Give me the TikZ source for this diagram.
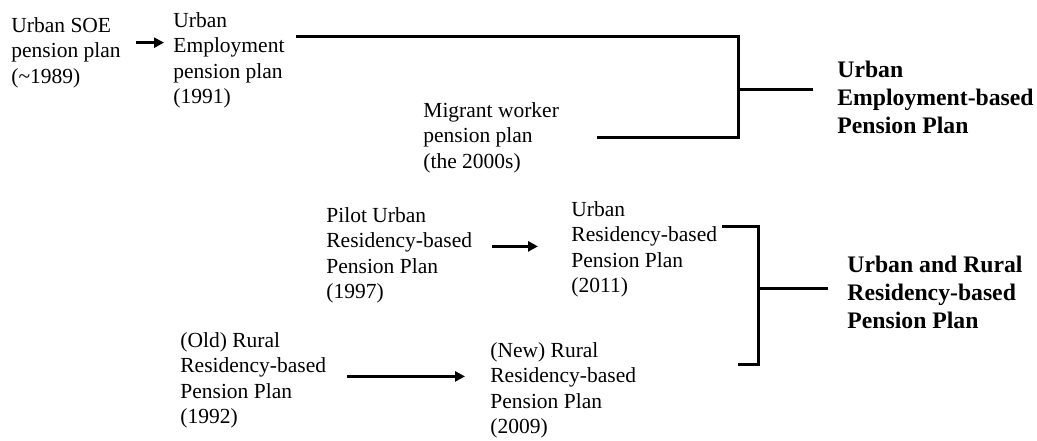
\documentclass[tikz,border=0pt]{standalone}
\usepackage{fontspec}
\setmainfont{Liberation Serif}
\usepackage{tikz}
\usetikzlibrary{arrows.meta}

\begin{document}
\begin{tikzpicture}[x=0.5pt,y=-0.5pt,
  plan/.style={anchor=north west,inner sep=0pt,align=left,font=\fontsize{10.75}{12.75}\selectfont},
  goal/.style={anchor=north west,inner sep=0pt,align=left,font=\fontsize{11.85}{14}\selectfont\bfseries},
  arr/.style={line width=1.5pt,-{Triangle[length=5pt,width=5pt]}},
  brk/.style={line width=1.5pt}]
\useasboundingbox (0,0) rectangle (1037,440);
% urban employment side
\node[plan] (soe) at (11,17) {Urban SOE\\pension plan\\(\textasciitilde1989)};
\node[plan] (emp) at (173,12) {Urban\\Employment\\pension plan\\(1991)};
\node[plan] (mig) at (423,102) {Migrant worker\\pension plan\\(the 2000s)};
\node[goal] (ueb) at (837,61) {Urban\\Employment-based\\Pension Plan};
% residency side
\node[plan] (pilot) at (326,207) {Pilot Urban\\Residency-based\\Pension Plan\\(1997)};
\node[plan] (urr) at (571,201) {Urban\\Residency-based\\Pension Plan\\(2011)};
\node[plan] (old) at (180,332) {(Old) Rural\\Residency-based\\Pension Plan\\(1992)};
\node[plan] (new) at (490,342) {(New) Rural\\Residency-based\\Pension Plan\\(2009)};
\node[goal] (urrb) at (847,256) {Urban and Rural\\Residency-based\\Pension Plan};
\coordinate (ujoin) at (738,89);
\coordinate (rjoin) at (758,288);
\coordinate (rbot) at (738,364);

\draw[arr,shorten <=7.5pt,shorten >=4.5pt] ([yshift=5pt]soe.east) -- ([yshift=5pt]soe.east -| emp.west);
\draw[arr,shorten <=10pt,shorten >=16.5pt] ([yshift=4.5pt]pilot.east) -- ([yshift=4.5pt]pilot.east -| urr.west);
\draw[arr,shorten <=10.5pt,shorten >=12.5pt] ([yshift=2pt]old.east) -- ([yshift=2pt]old.east -| new.west);

\draw[brk] ([shift={(5.5pt,12pt)}]emp.east) -| (ujoin) |- ([xshift=19pt]mig.east);
\draw[brk] (ujoin) -- ([xshift=-12pt]ueb.west |- ujoin);
\draw[brk] ([shift={(2.5pt,11.25pt)}]urr.east) -| (rjoin) |- (rbot);
\draw[brk] (rjoin) -- ([xshift=-9.5pt]urrb.west |- rjoin);
\end{tikzpicture}
\end{document}
